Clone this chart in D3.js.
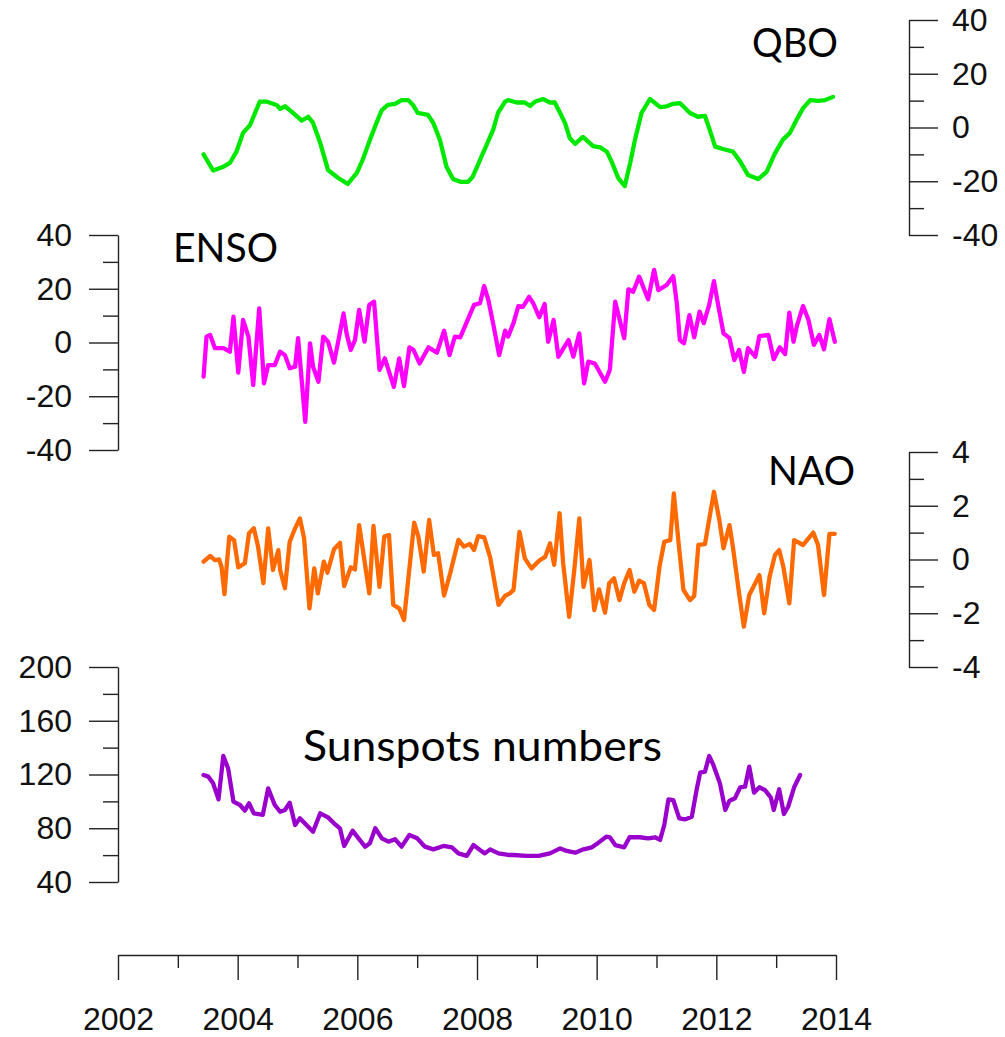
<!DOCTYPE html>
<html lang="en">
<head>
<meta charset="UTF-8">
<title>QBO, ENSO, NAO and sunspots</title>
<script src="https://d3js.org/d3.v7.min.js"></script>
<style>
  body { margin: 0; background: #fff; }
  .tick text { font-family: "Liberation Sans", Arial, sans-serif; font-size: 32px; fill: #111; }
  .tick line, .domain { stroke: #222; stroke-width: 1.4px; }
  .title { font-family: Lato, "Open Sans", sans-serif; font-size: 40px; fill: #000; }
  .series { fill: none; stroke-width: 4.3px; stroke-linejoin: round; stroke-linecap: round; }
</style>
</head>
<body>
<svg id="chart" width="1005" height="1037"></svg>
<script>
// values: [decimal year, value]
const qbo = [
  [2003.43,-10],[2003.59,-16],[2003.75,-14.7],[2003.87,-13.2],[2003.98,-9],[2004.09,-2],[2004.21,1],
  [2004.29,5.4],[2004.37,9.6],[2004.49,9.6],[2004.65,8.4],[2004.71,6.9],[2004.79,7.9],[2004.92,5.5],
  [2005.07,2.6],[2005.18,4],[2005.26,1.7],[2005.38,-5.8],[2005.51,-15.8],[2005.68,-18.8],[2005.84,-21],
  [2005.99,-17],[2006.09,-12],[2006.21,-4.6],[2006.32,1.7],[2006.41,6.5],[2006.51,8.4],[2006.63,8.8],
  [2006.74,10.2],[2006.85,10.2],[2006.93,8.4],[2007.01,5.4],[2007.18,4.7],[2007.27,1.7],[2007.38,-4.6],
  [2007.49,-14.6],[2007.60,-19.2],[2007.72,-20.2],[2007.85,-20.2],[2007.93,-18.3],[2008.05,-12.1],
  [2008.16,-6.5],[2008.27,-0.9],[2008.35,5.4],[2008.47,9.6],[2008.52,10.2],[2008.66,9.3],[2008.80,9.3],
  [2008.89,8],[2008.97,9.6],[2009.10,10.6],[2009.22,9.3],[2009.30,9.3],[2009.39,5.4],[2009.47,1.7],
  [2009.55,-3.9],[2009.64,-6.1],[2009.77,-3.5],[2009.94,-6.9],[2010.06,-7.4],[2010.17,-9],[2010.25,-12.7],
  [2010.36,-18.8],[2010.47,-21.8],[2010.56,-13.2],[2010.64,-4.6],[2010.75,5.4],[2010.89,10.6],[2011.06,7.6],
  [2011.17,7.9],[2011.28,8.8],[2011.39,9.1],[2011.56,5.4],[2011.69,4],[2011.81,4.3],[2011.89,-0.9],
  [2011.98,-7.1],[2012.11,-8],[2012.28,-9],[2012.40,-12.7],[2012.53,-17.7],[2012.70,-19.2],[2012.84,-16.5],
  [2012.98,-9.6],[2013.11,-4.6],[2013.23,-2],[2013.34,2.8],[2013.45,7.2],[2013.57,10.2],[2013.70,9.9],
  [2013.82,10.2],[2013.95,11.4]
];

const enso = [
  [2003.43,-12.7],[2003.48,2.2],[2003.54,2.8],[2003.62,-2.1],[2003.76,-2.1],[2003.87,-3.4],[2003.93,9.6],
  [2004.01,-11.2],[2004.09,8.4],[2004.18,2.2],[2004.26,-15.8],[2004.36,12.7],[2004.44,-15.2],[2004.51,-8.4],
  [2004.62,-8.4],[2004.71,-3.4],[2004.79,-4.7],[2004.87,-9.6],[2004.96,-9],[2005.01,1.6],[2005.13,-29.5],
  [2005.21,-0.3],[2005.26,-9],[2005.35,-14.6],[2005.43,2.2],[2005.51,0.3],[2005.61,-7.5],[2005.68,0.3],
  [2005.77,10.8],[2005.82,3.4],[2005.89,-2.8],[2005.96,0.9],[2006.03,12.1],[2006.12,0.3],[2006.20,14],
  [2006.28,15.2],[2006.37,-10.2],[2006.46,-5.9],[2006.61,-16.5],[2006.70,-5.9],[2006.78,-16.2],[2006.87,-1.8],
  [2006.94,-2.8],[2007.04,-7.8],[2007.19,-1.8],[2007.33,-3.8],[2007.45,4.4],[2007.54,-4.7],[2007.63,2.2],
  [2007.72,1.9],[2007.83,7.7],[2007.95,14],[2008.05,14.6],[2008.12,21],[2008.19,15.8],[2008.28,5.9],
  [2008.37,-4.7],[2008.47,4.4],[2008.52,2.2],[2008.61,7.2],[2008.69,13.5],[2008.77,13.3],[2008.87,17],
  [2008.94,14.6],[2009.04,9.4],[2009.13,14.3],[2009.19,0.3],[2009.28,8.4],[2009.36,-5.3],[2009.53,0.9],
  [2009.61,-5.3],[2009.71,3.4],[2009.79,-15.2],[2009.86,-7.1],[2009.97,-7.8],[2010.14,-14.6],[2010.22,-10.2],
  [2010.31,15.2],[2010.46,1.6],[2010.53,19.8],[2010.61,18.9],[2010.71,24.5],[2010.86,16.1],[2010.96,27],
  [2011.03,19.5],[2011.17,21.4],[2011.28,24.7],[2011.34,14.6],[2011.39,0.9],[2011.46,-0.3],[2011.55,10.2],
  [2011.63,1.9],[2011.72,11.5],[2011.79,7.2],[2011.88,14],[2011.96,22.8],[2012.03,14],[2012.12,3.4],
  [2012.22,1.6],[2012.30,-6.5],[2012.38,-2.8],[2012.46,-10.9],[2012.53,-2.1],[2012.65,-5.3],[2012.72,2.4],
  [2012.87,2.8],[2012.96,-6.2],[2013.06,-1.8],[2013.15,-4.3],[2013.22,11.1],[2013.29,0.3],[2013.35,6.5],
  [2013.45,13.6],[2013.54,8.4],[2013.63,-0.9],[2013.72,2.8],[2013.80,-2.5],[2013.89,8.7],[2013.98,0.3]
];

const nao = [
  [2003.43,-0.08],[2003.54,0.13],[2003.62,-0.02],[2003.69,0],[2003.73,-0.27],[2003.78,-1.29],[2003.82,-0.14],
  [2003.86,0.85],[2003.94,0.72],[2004.01,-0.29],[2004.12,-0.14],[2004.19,0.98],[2004.27,1.16],[2004.34,0.49],
  [2004.43,-0.88],[2004.51,1.16],[2004.59,-0.39],[2004.68,0.35],[2004.71,-0.39],[2004.79,-1.07],[2004.87,0.66],
  [2004.96,1.16],[2005.04,1.53],[2005.11,0.79],[2005.20,-1.82],[2005.28,-0.33],[2005.34,-1.26],[2005.44,-0.08],
  [2005.50,-0.49],[2005.61,0.38],[2005.71,0.62],[2005.78,-0.99],[2005.89,-0.29],[2005.96,-0.37],[2006.03,1.28],
  [2006.11,0.1],[2006.20,-1.26],[2006.27,1.25],[2006.37,-1.02],[2006.45,0.85],[2006.53,0.91],[2006.60,-1.69],
  [2006.70,-1.82],[2006.78,-2.25],[2006.85,-0.76],[2006.95,1.37],[2007.02,0.85],[2007.11,-0.45],[2007.20,1.47],
  [2007.28,0.17],[2007.35,0.23],[2007.45,-1.34],[2007.55,-0.53],[2007.69,0.73],[2007.78,0.48],[2007.88,0.58],
  [2007.95,0.35],[2008.02,0.87],[2008.12,0.82],[2008.22,0.08],[2008.36,-1.69],[2008.47,-1.35],[2008.55,-1.26],
  [2008.61,-1.13],[2008.71,1.03],[2008.80,0.04],[2008.91,-0.33],[2009.05,-0.02],[2009.14,0.1],[2009.22,0.6],
  [2009.29,-0.2],[2009.38,1.72],[2009.44,-0.14],[2009.54,-2.13],[2009.62,-0.51],[2009.71,1.53],[2009.78,-1.02],
  [2009.88,-0.02],[2009.96,-1.88],[2010.04,-1.11],[2010.14,-1.98],[2010.21,-0.88],[2010.29,-0.7],[2010.38,-1.51],
  [2010.46,-0.88],[2010.55,-0.39],[2010.63,-1.2],[2010.71,-0.79],[2010.79,-0.88],[2010.88,-1.69],[2010.96,-1.88],
  [2011.05,-0.27],[2011.13,0.66],[2011.23,0.72],[2011.29,2.46],[2011.37,0.6],[2011.45,-1.13],[2011.56,-1.51],
  [2011.63,-1.36],[2011.70,0.54],[2011.81,0.57],[2011.96,2.52],[2012.05,1.47],[2012.12,0.42],[2012.22,1.28],
  [2012.28,0.42],[2012.38,-1.26],[2012.46,-2.5],[2012.55,-1.32],[2012.72,-0.58],[2012.80,-2.0],[2012.89,-0.64],
  [2012.98,0.17],[2013.05,0.35],[2013.12,-0.27],[2013.22,-1.63],[2013.30,0.72],[2013.45,0.54],[2013.62,1.0],
  [2013.70,0.54],[2013.80,-1.32],[2013.89,0.95],[2013.98,0.95]
];

const sunspots = [
  [2003.43,119.6],[2003.51,118.4],[2003.59,113.4],[2003.68,101.5],[2003.76,133.8],[2003.84,124.6],[2003.93,99.8],
  [2004.04,97.3],[2004.12,93.1],[2004.19,98.6],[2004.27,91.1],[2004.42,89.9],[2004.51,109.7],[2004.62,97.3],
  [2004.71,92.3],[2004.79,93.6],[2004.87,99],[2004.96,82.4],[2005.04,87.4],[2005.15,82.4],[2005.26,77.4],
  [2005.38,91.1],[2005.51,88.1],[2005.61,83.7],[2005.71,79.9],[2005.78,66.8],[2005.92,78.2],[2006.02,72.5],
  [2006.13,66.3],[2006.21,68.8],[2006.30,80],[2006.41,72.5],[2006.52,70],[2006.63,71.8],[2006.74,66.3],
  [2006.87,75],[2007.00,72.5],[2007.13,66.3],[2007.27,64.3],[2007.44,66.8],[2007.58,65.8],[2007.69,61.3],
  [2007.83,59.4],[2007.94,67.5],[2008.05,63.8],[2008.13,61.3],[2008.22,64.3],[2008.36,61.3],[2008.52,60.1],
  [2008.61,60.1],[2008.83,59.4],[2009.03,59.4],[2009.22,61.3],[2009.39,65],[2009.50,63.1],[2009.64,61.8],
  [2009.78,64.3],[2009.92,65.8],[2010.03,69.3],[2010.16,73.7],[2010.22,73.3],[2010.31,67.5],[2010.46,65.8],
  [2010.55,73.3],[2010.72,73.3],[2010.86,72.5],[2010.98,73.3],[2011.06,71.3],[2011.13,82.4],[2011.20,101.5],
  [2011.28,101],[2011.38,87.4],[2011.48,86.6],[2011.59,88.6],[2011.67,108.5],[2011.73,121.4],[2011.81,122.1],
  [2011.88,133.8],[2011.95,127.1],[2012.06,113.4],[2012.15,93.6],[2012.22,100.5],[2012.31,102.3],[2012.40,110.5],
  [2012.48,110.9],[2012.55,125.8],[2012.63,106.5],[2012.72,110.5],[2012.81,108.5],[2012.91,103],[2012.96,93.6],
  [2013.05,109],[2013.13,90.6],[2013.20,96],[2013.30,110.5],[2013.40,119.6]
];

const yearTicks = [2002, 2004, 2006, 2008, 2010, 2012, 2014];
const yearMinor = [2003, 2005, 2007, 2009, 2011, 2013];
const qboTicks = [-40, -20, 0, 20, 40];
const ensoTicks = [-40, -20, 0, 20, 40];
const naoTicks = [-4, -2, 0, 2, 4];
const sunTicks = [40, 80, 120, 160, 200];

const svg = d3.select("#chart");

const x = d3.scaleLinear().domain([2002, 2014]).range([118, 836]);

// plain hyphen for negatives, like the original
const plain = d => String(d);

// each panel: own y scale, axis side, colour
const panels = [
  { name: "QBO", data: qbo, ticks: qboTicks, step: 10, domain: [-40, 40], range: [235, 20],
    side: "right", color: "#00e800", title: [752, 57], width: 86 },
  { name: "ENSO", data: enso, ticks: ensoTicks, step: 10, domain: [-40, 40], range: [450, 235],
    side: "left", color: "#ff00ff", title: [173, 262], width: 105 },
  { name: "NAO", data: nao, ticks: naoTicks, step: 1, domain: [-4, 4], range: [667, 452],
    side: "right", color: "#ff6a00", title: [768, 485], width: 87 },
  { name: "Sunspots numbers", data: sunspots, ticks: sunTicks, step: 20, domain: [40, 200], range: [882, 667],
    side: "left", color: "#9a00cc", title: [303, 761], width: 359 }
];

panels.forEach(p => {
  const y = d3.scaleLinear().domain(p.domain).range(p.range);
  const minor = d3.range(p.domain[0] + p.step, p.domain[1], p.step * 2);
  const axisX = p.side === "right" ? 909 : 118;
  const make = p.side === "right" ? d3.axisRight : d3.axisLeft;

  svg.append("g")
    .attr("transform", `translate(${axisX},0)`)
    .call(make(y).tickValues(minor).tickSize(15).tickFormat(""))
    .call(g => g.select(".domain").remove());

  svg.append("g")
    .attr("transform", `translate(${axisX},0)`)
    .call(make(y).tickValues(p.ticks).tickSize(29).tickSizeOuter(0)
      .tickPadding(p.side === "right" ? 14 : 17).tickFormat(plain));

  svg.append("path")
    .datum(p.data)
    .attr("class", "series")
    .attr("stroke", p.color)
    .attr("d", d3.line().x(d => x(d[0])).y(d => y(d[1])));

  svg.append("text")
    .attr("class", "title")
    .attr("x", p.title[0])
    .attr("y", p.title[1])
    .attr("textLength", p.width)
    .attr("lengthAdjust", "spacingAndGlyphs")
    .style("font-size", p.name.length > 5 ? "42px" : null)
    .text(p.name);
});

// shared time axis
svg.append("g")
  .attr("transform", "translate(0,955)")
  .call(d3.axisBottom(x).tickValues(yearMinor).tickSize(13).tickFormat(""))
  .call(g => g.select(".domain").remove());

svg.append("g")
  .attr("transform", "translate(0,955)")
  .call(d3.axisBottom(x).tickValues(yearTicks).tickSize(25).tickSizeOuter(0)
    .tickPadding(27).tickFormat(plain));
</script>
</body>
</html>
